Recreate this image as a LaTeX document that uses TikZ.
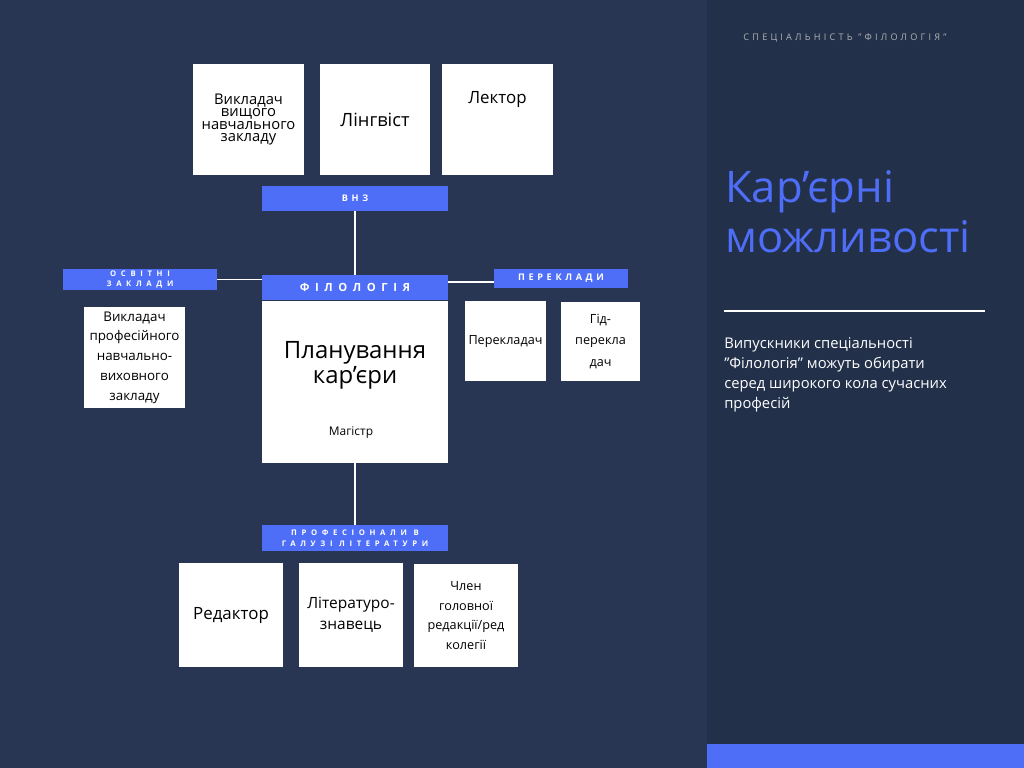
\documentclass[tikz,border=0pt]{standalone}
\usepackage{fontspec}
\setmainfont{Open Sans}
\definecolor{navy}{HTML}{283654}
\definecolor{navydark}{HTML}{22304A}
\definecolor{brandblue}{HTML}{4F6EF7}
\tikzset{
  card/.style={fill=white,draw=none,inner sep=1pt,align=center,text=black,font=\fontsize{10.5}{12}\selectfont},
  tagbar/.style={fill=brandblue,text=white,align=center,inner sep=0pt,font=\bfseries\addfontfeatures{LetterSpace=40}\fontsize{6.5}{8}\selectfont},
  link/.style={draw=white,line width=1.3pt}
}
\begin{document}
\begin{tikzpicture}[x=0.025cm,y=-0.025cm]
\useasboundingbox (0,0) rectangle (1024,768);
\fill[navy] (0,0) rectangle (707,768);
\fill[navydark] (707,0) rectangle (1024,768);
\fill[brandblue] (707,744) rectangle (1024,768);
% top row
\node[card,minimum width=111*0.025cm,minimum height=111*0.025cm,text width=105*0.025cm] (vykl) at (248.5,119.5) {Викладач\\[-3pt]вищого\\[-3pt]навчального\\[-3pt]закладу};
\node[card,minimum width=110*0.025cm,minimum height=111*0.025cm,font=\fontsize{13}{15}\selectfont] (ling) at (375,119.5) {Лінгвіст};
\node[card,minimum width=111*0.025cm,minimum height=111*0.025cm,font=\fontsize{12}{14}\selectfont] (lekt) at (497.5,119.5) {Лектор\\[18pt]};
\node[tagbar,minimum width=186*0.025cm,minimum height=25*0.025cm] (vnz) at (355,198.5) {ВНЗ};
% centre
\node[tagbar,minimum width=186*0.025cm,minimum height=25*0.025cm,font=\bfseries\addfontfeatures{LetterSpace=50}\fontsize{8}{9}\selectfont] (fil) at (355,287.5) {ФІЛОЛОГІЯ};
\node[card,minimum width=186*0.025cm,minimum height=162*0.025cm,anchor=north] (plan) at (fil.south) {};
\node[text=black,align=center,font=\fontsize{17}{18}\selectfont] (plantxt) at (355,365) {Планування\\кар'єри};
\node[text=black,font=\fontsize{8.5}{10}\selectfont] (mag) at (351,433) {Магістр};
\draw[link] (vnz.south) -- (fil.north);
% left
\node[tagbar,minimum width=154*0.025cm,minimum height=21*0.025cm,font=\bfseries\addfontfeatures{LetterSpace=60}\fontsize{5.5}{7.5}\selectfont] (osv) at (140,279.5) {ОСВІТНІ\\ЗАКЛАДИ};
\draw[link] (osv.east) -- (fil.west |- osv.east);
\node[card,minimum width=101*0.025cm,minimum height=101*0.025cm,text width=99*0.025cm,font=\fontsize{9.5}{14}\selectfont] (prof) at (134.5,357.5) {Викладач\\професійного\\навчально-\\виховного\\закладу};
% right
\node[tagbar,minimum width=134*0.025cm,minimum height=19*0.025cm] (perek) at (561,278.5) {ПЕРЕКЛАДИ};
\draw[link] (fil.east |- 0,282) -- (perek.west |- 0,282);
\node[card,minimum width=81*0.025cm,minimum height=80*0.025cm,font=\fontsize{9}{11}\selectfont] (trans) at (505.5,341) {Перекладач};
\node[card,minimum width=79*0.025cm,minimum height=79*0.025cm,font=\fontsize{9}{15}\selectfont] (gid) at (600.5,341.5) {Гід-\\перекла\\дач};
% bottom
\draw[link] (plan.south) -- (355,525);
\node[tagbar,minimum width=186*0.025cm,minimum height=26*0.025cm,font=\bfseries\addfontfeatures{LetterSpace=60}\fontsize{5.5}{8}\selectfont] (litbar) at (355,538) {ПРОФЕСІОНАЛИ В\\ГАЛУЗІ ЛІТЕРАТУРИ};
\node[card,minimum width=104*0.025cm,minimum height=104*0.025cm,font=\fontsize{12}{14}\selectfont] (red) at (231,615) {Редактор};
\node[card,minimum width=104*0.025cm,minimum height=104*0.025cm,font=\fontsize{11}{15}\selectfont] (litz) at (351,615) {Літературо-\\знавець};
\node[card,minimum width=104*0.025cm,minimum height=103*0.025cm,font=\fontsize{9}{14}\selectfont] (chlen) at (466,615.5) {Член\\головної\\редакції/ред\\колегії};
% right panel
\node[anchor=center,text=gray!60,font=\addfontfeatures{LetterSpace=35}\fontsize{6.5}{8}\selectfont] (spec) at (845,38) {СПЕЦІАЛЬНІСТЬ "ФІЛОЛОГІЯ"};
\node[anchor=north west,text=brandblue,align=left,inner sep=0pt,font=\fontsize{31}{36}\selectfont] (title) at (725,170) {Кар'єрні\\можливості};
\draw[white,line width=1.8pt] (724,311) -- (985,311);
\node[anchor=north west,text=white,align=left,inner sep=0pt,font=\fontsize{10.5}{14.2}\selectfont] (desc) at (724,337) {Випускники спеціальності\\"Філологія" можуть обирати\\серед широкого кола сучасних\\професій};
\end{tikzpicture}
\end{document}
